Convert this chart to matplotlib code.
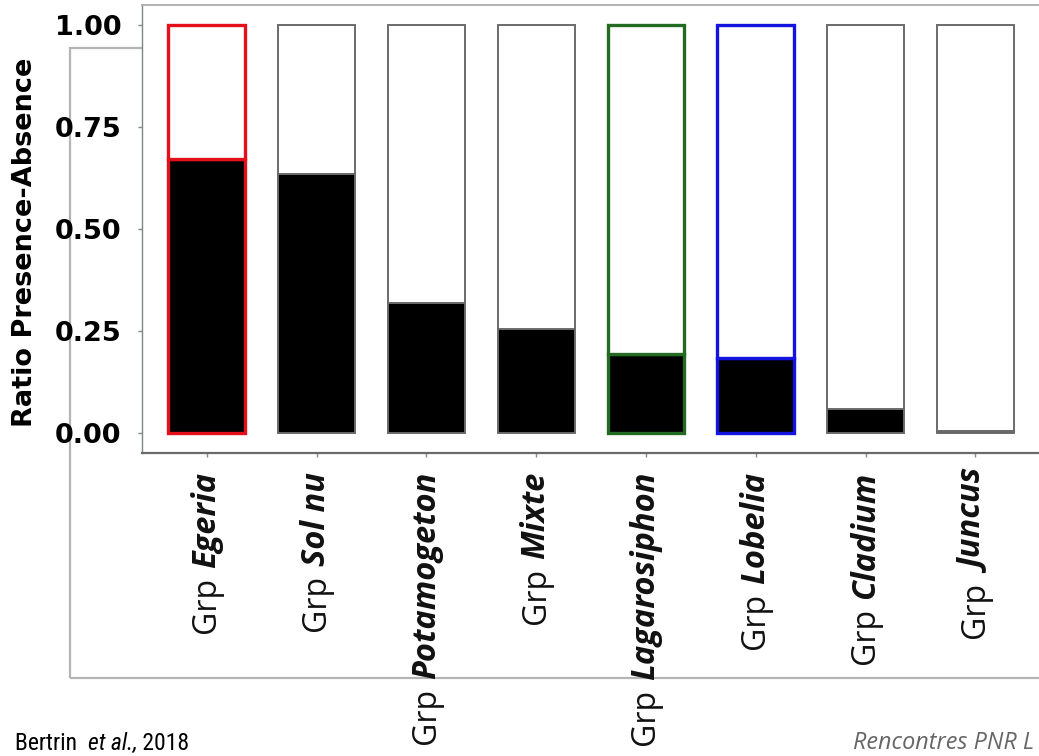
import matplotlib.pyplot as plt
from matplotlib.patches import Rectangle
from matplotlib.text import Annotation

# -----------------------------
# Data
# -----------------------------
groups = ['Egeria', 'Sol nu', 'Potamogeton', 'Mixte',
          'Lagarosiphon', 'Lobelia', 'Cladium', 'Juncus']
presence = [0.673, 0.636, 0.319, 0.255, 0.194, 0.184, 0.059, 0.005]
edge_colors = ['#e3101c', '#6a6a6a', '#6a6a6a', '#6a6a6a',
               '#236b23', '#1414e0', '#6a6a6a', '#6a6a6a']
edge_widths = [2.4, 1.4, 1.4, 1.4, 2.4, 2.4, 1.4, 1.4]
yticks = [0.00, 0.25, 0.50, 0.75, 1.00]

W, H = 1039, 756
fig = plt.figure(figsize=(W / 100, H / 100), dpi=100)

# outer grey frame of the slide picture
frame = Rectangle((70 / W, 1 - 678 / H), 1.1, (678 - 48) / H,
                  transform=fig.transFigure, fill=False,
                  edgecolor='#b4b4b4', lw=1.6, zorder=-5)
fig.patches.append(frame)

ax = fig.add_axes([142 / W, 1 - 453 / H, (1039 - 142) / W, (453 - 5) / H])
ax.set_facecolor('white')

x = list(range(len(groups)))
absence = [1 - p for p in presence]

# -----------------------------
# Stacked bars
# -----------------------------
ax.bar(x, presence, width=0.7, color='black',
       edgecolor=edge_colors, linewidth=edge_widths, zorder=2)
ax.bar(x, absence, width=0.7, bottom=presence, color='white',
       edgecolor=edge_colors, linewidth=edge_widths, zorder=2)

ax.set_xlim(-0.59, 7.58)
ax.set_ylim(-0.05, 1.05)

ax.set_yticks(yticks)
ax.set_yticklabels([f'{v:.2f}' for v in yticks],
                   fontsize=19.5, fontweight='bold', family='DejaVu Sans')
ax.set_xticks(x)
ax.set_xticklabels([''] * len(x))
ax.tick_params(axis='both', length=3, width=1, color='#888888')
ax.tick_params(axis='y', pad=12)

ax.set_ylabel('Ratio Presence-Absence', fontsize=19.5, fontweight='bold',
              family='DejaVu Sans')
ax.yaxis.set_label_coords(-0.116, 0.47)

ax.spines['top'].set_color('#b0b0b0')
ax.spines['top'].set_linewidth(1.4)
ax.spines['left'].set_color('#7a8a80')
ax.spines['left'].set_linewidth(1.0)
ax.spines['bottom'].set_color('#6a6a6a')
ax.spines['bottom'].set_linewidth(1.6)
ax.spines['right'].set_visible(False)

# -----------------------------
# Tick labels: "Grp" + bold italic group name
# -----------------------------
for xi, g in zip(x, groups):
    t = ax.annotate(g, xy=(xi, 0), xycoords=ax.get_xaxis_transform(),
                    xytext=(0, -13.5), textcoords='offset points',
                    rotation=90, ha='center', va='top',
                    fontsize=23.5, fontweight='bold', fontstyle='italic',
                    family=['Open Sans', 'DejaVu Sans'], color='#111111')
    ax.annotate('Grp', xy=(0.5, 0), xycoords=t,
                xytext=(0, -6.5), textcoords='offset points',
                rotation=90, ha='center', va='top',
                fontsize=23, family=['Open Sans', 'DejaVu Sans'],
                color='#111111')

# -----------------------------
# Slide footer
# -----------------------------
foot = ['Liberation Sans Narrow', 'Roboto Condensed', 'Roboto']
t1 = fig.text(15 / W, 0.001, 'Bertrin  ', fontsize=17, family=foot,
              va='bottom', color='black')
t2 = fig.add_artist(Annotation('et al.,', xy=(1, 0), xycoords=t1,
                               va='bottom', ha='left', fontsize=17,
                               family=foot, style='italic'))
fig.add_artist(Annotation(' 2018', xy=(1, 0), xycoords=t2,
                          va='bottom', ha='left', fontsize=17,
                          family=foot))

fig.text(853 / W, 0.001, 'Rencontres PNR L', fontsize=16.8,
         family=['Open Sans', 'DejaVu Sans'], style='italic',
         va='bottom', color='#666666')

fig.savefig('out.png', dpi=100, facecolor='white')
